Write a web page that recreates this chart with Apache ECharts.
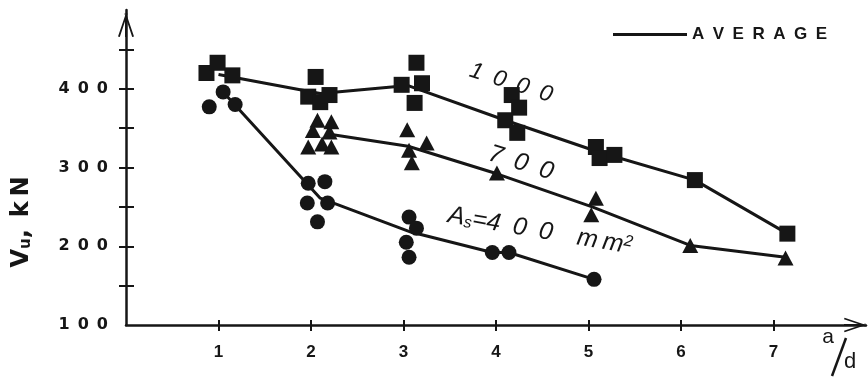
<!DOCTYPE html>
<html>
<head>
<meta charset="utf-8">
<script src="https://cdn.jsdelivr.net/npm/echarts@6/dist/echarts.min.js"></script>
<style>
  html, body { margin: 0; padding: 0; background: #fff; }
  #chart { width: 868px; height: 380px; }
</style>
</head>
<body>
<div id="chart"></div>
<script>
// measured points [a/d, Vu kN]
const squares1000 = [
  [0.87, 420], [0.99, 433], [1.15, 417],
  [2.05, 415], [1.97, 390], [2.1, 383], [2.2, 392],
  [3.14, 433], [2.98, 405], [3.2, 407], [3.12, 382],
  [4.17, 392], [4.25, 376], [4.1, 360], [4.23, 344],
  [5.08, 326], [5.12, 312], [5.28, 316],
  [6.15, 284],
  [7.15, 216]
];
const avg1000 = [[1.0, 418], [2.1, 394], [3.05, 404], [4.1, 360], [5.1, 320], [6.15, 284], [7.15, 216]];

const triangles700 = [
  [2.07, 360], [2.22, 358], [2.02, 347], [2.2, 345], [1.97, 326], [2.12, 330], [2.22, 326],
  [3.04, 348], [3.25, 331], [3.09, 306], [3.06, 322],
  [4.01, 293],
  [5.08, 261], [5.03, 240],
  [6.1, 201],
  [7.13, 185]
];
const avg700 = [[2.22, 342], [3.05, 327], [4.01, 292], [5.04, 250], [6.1, 201], [7.13, 186]];

const circles400 = [
  [0.9, 377], [1.05, 396], [1.18, 380],
  [1.97, 280], [2.15, 282], [1.96, 255], [2.18, 255], [2.07, 231],
  [3.06, 237], [3.14, 223], [3.03, 205], [3.06, 186],
  [3.96, 192], [4.14, 192],
  [5.06, 158]
];
const avg400 = [[1.05, 396], [2.1, 261], [3.08, 218], [3.96, 192], [4.14, 192], [5.06, 158]];

const xTicks = [1, 2, 3, 4, 5, 6, 7];
const yTicks = [150, 200, 250, 300, 350, 400, 450];
const yLabels = [100, 200, 300, 400];

const ink = '#161616';
const spaced = (s) => String(s).split('').join('\u2002');

// open arrow head pointing up, with stem
const arrowPath = 'path://M7,0 L9,0 L9,24 L7,24 Z M8,0 L9.6,0.6 L1.8,24 L0,23.4 Z M8,0 L6.4,0.6 L14.2,24 L16,23.4 Z';

const chart = echarts.init(document.getElementById('chart'));

const avgLine = (data) => ({
  name: 'AVERAGE',
  type: 'line',
  data: data,
  symbol: 'none',
  lineStyle: { color: ink, width: 3 },
  itemStyle: { color: ink },
  z: 2
});

const options = {
  animation: false,
  backgroundColor: '#fff',
  grid: { left: 126, right: 2, top: 10, bottom: 55 },
  legend: {
    data: [{ name: 'AVERAGE', icon: 'rect' }],
    left: 608,
    top: 21,
    itemWidth: 74,
    itemHeight: 3,
    itemGap: 10,
    formatter: (n) => spaced(n),
    textStyle: { color: ink, fontSize: 17, fontWeight: 'bold', fontFamily: 'Liberation Sans' }
  },
  xAxis: [
    {
      type: 'value', min: 0, max: 8, interval: 1,
      axisLine: {
        lineStyle: { color: ink, width: 2.5 },
        symbol: ['none', arrowPath], symbolSize: [20, 22], symbolOffset: [0, -11]
      },
      axisTick: { length: 6, lineStyle: { color: ink, width: 2 }, customValues: xTicks },
      axisLabel: {
        customValues: xTicks, margin: 19, color: ink, fontSize: 17,
        fontFamily: 'Liberation Sans', fontWeight: 'bold'
      },
      splitLine: { show: false }
    },
    {
      type: 'value', min: 0, max: 8, interval: 1, position: 'bottom',
      axisLine: { show: false },
      axisTick: { inside: true, length: 5, lineStyle: { color: ink, width: 2 }, customValues: xTicks },
      axisLabel: { show: false },
      splitLine: { show: false }
    }
  ],
  yAxis: [
    {
      type: 'value', min: 100, max: 500, interval: 50,
      axisLine: {
        lineStyle: { color: ink, width: 2.5 },
        symbol: ['none', arrowPath], symbolSize: [16, 24], symbolOffset: [0, -15]
      },
      axisTick: { length: 7, lineStyle: { color: ink, width: 2 }, customValues: yTicks },
      axisLabel: {
        customValues: yLabels, margin: 18, color: ink, fontSize: 16, fontWeight: 'bold',
        fontFamily: 'DejaVu Sans', formatter: (v) => spaced(v)
      },
      splitLine: { show: false }
    },
    {
      type: 'value', min: 100, max: 500, interval: 50, position: 'left',
      axisLine: { show: false },
      axisTick: { inside: true, length: 8, lineStyle: { color: ink, width: 2 }, customValues: yTicks },
      axisLabel: { show: false },
      splitLine: { show: false }
    }
  ],
  series: [
    avgLine(avg1000),
    avgLine(avg700),
    avgLine(avg400),
    { name: 'As=1000', type: 'scatter', data: squares1000, symbol: 'rect', symbolSize: 16, itemStyle: { color: ink, opacity: 1 }, z: 3 },
    { name: 'As=700', type: 'scatter', data: triangles700, symbol: 'triangle', symbolSize: [16, 15], itemStyle: { color: ink, opacity: 1 }, z: 3 },
    { name: 'As=400', type: 'scatter', data: circles400, symbol: 'circle', symbolSize: 15, itemStyle: { color: ink, opacity: 1 }, z: 3 }
  ],
  graphic: [
    {
      type: 'text', x: 22, y: 222, rotation: Math.PI / 2,
      style: {
        text: '{v|V}{u|u}{v|,\u2002k\u2009N}',
        align: 'center', verticalAlign: 'middle', fill: ink,
        rich: {
          v: { fontSize: 24, fontWeight: 'bold', fontFamily: 'DejaVu Sans', fill: ink },
          u: { fontSize: 15, fontWeight: 'bold', fontFamily: 'DejaVu Sans', fill: ink, verticalAlign: 'bottom', padding: [6, 0, 0, 0] }
        }
      }
    },
    {
      type: 'text', x: 511, y: 83, rotation: -0.31,
      style: { text: spaced('1000'), font: 'italic 23px "Liberation Sans"', fill: ink, align: 'center', verticalAlign: 'middle' }
    },
    {
      type: 'text', x: 521, y: 163, rotation: -0.3,
      style: { text: spaced('700'), font: 'italic 25px "Liberation Sans"', fill: ink, align: 'center', verticalAlign: 'middle' }
    },
    {
      type: 'text', x: 540, y: 231, rotation: -0.17,
      style: {
        text: '{a|A}{s|s}{b|=4\u20020\u20020\u2003m\u2009m}{c|2}',
        align: 'center', verticalAlign: 'middle', fill: ink,
        rich: {
          a: { font: 'italic 25px "Liberation Sans"', fill: ink },
          s: { font: 'italic 16px "Liberation Sans"', fill: ink, verticalAlign: 'bottom', padding: [8, 0, 0, 0] },
          b: { font: 'italic 25px "Liberation Sans"', fill: ink },
          c: { font: 'italic 16px "Liberation Sans"', fill: ink, verticalAlign: 'top' }
        }
      }
    },
    {
      type: 'text', x: 828, y: 337,
      style: { text: 'a', font: '21px "Liberation Sans"', fill: ink, align: 'center', verticalAlign: 'middle' }
    },
    {
      type: 'line', shape: { x1: 832, y1: 376, x2: 846, y2: 338 },
      style: { stroke: ink, lineWidth: 2.5 }
    },
    {
      type: 'text', x: 850, y: 362,
      style: { text: 'd', font: '22px "Liberation Sans"', fill: ink, align: 'center', verticalAlign: 'middle' }
    }
  ]
};

chart.setOption(options);
window.addEventListener('resize', () => chart.resize());
</script>
</body>
</html>
